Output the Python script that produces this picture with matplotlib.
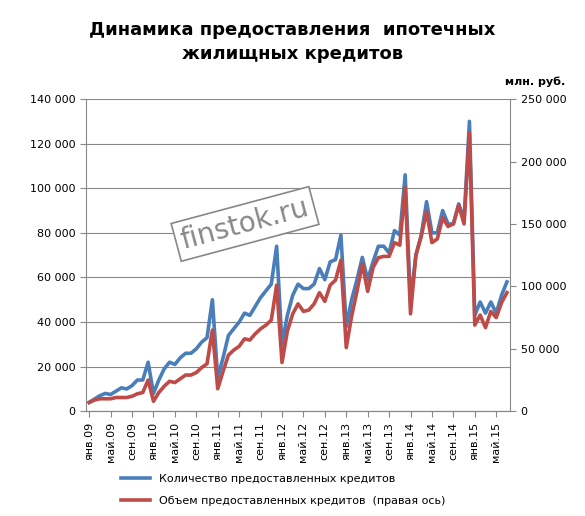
import matplotlib.pyplot as plt
import numpy as np
from matplotlib.ticker import FuncFormatter

months = ['янв', 'фев', 'мар', 'апр', 'май', 'июн', 'июл', 'авг', 'сен', 'окт', 'ноя', 'дек']
years = ['09', '10', '11', '12', '13', '14', '15']

count = [4, 5.5, 7, 8, 7.5, 9, 10.5, 10, 11.5, 14, 14, 22,
         8, 14, 19, 22, 21, 24, 26, 26, 28, 31, 33, 50,
         15, 24, 34, 37, 40, 44, 43, 47, 51, 54, 57, 74,
         30, 43, 52, 57, 55, 55, 57, 64, 59, 67, 68, 79,
         38, 50, 59, 69, 59, 67, 74, 74, 71, 81, 79, 106,
         49, 70, 79, 94, 80, 80, 90, 84, 84, 93, 86, 130,
         43, 49, 44, 49, 44, 52, 58]
volume = [7, 9, 10, 10, 10, 11, 11, 11, 12, 14, 15, 25,
          8, 15, 20, 24, 23, 26, 29, 29, 31, 35, 38, 65,
          18, 32, 45, 49, 52, 58, 57, 62, 66, 69, 73, 101,
          39, 64, 78, 86, 80, 81, 86, 95, 88, 101, 105, 121,
          51, 76, 96, 118, 96, 115, 123, 124, 124, 135, 133, 179,
          78, 125, 140, 160, 135, 138, 155, 148, 150, 165, 150, 223,
          69, 77, 67, 80, 75, 87, 95]

labels = [f'{m}.{y}' for y in years for m in months][:len(count)]
x = np.arange(len(count))
blue = '#4a7ebb'
red = '#be4b48'

fig = plt.figure(figsize=(5.85, 5.16), dpi=100)
ax = fig.add_axes([0.147, 0.203, 0.725, 0.605])
ax2 = ax.twinx()

ax.plot(x, np.array(count) * 1000, color=blue, lw=2.6, label='Количество предоставленных кредитов')
ax2.plot(x, np.array(volume) * 1000, color=red, lw=2.6, label='Объем предоставленных кредитов  (правая ось)')

fmt = FuncFormatter(lambda v, p: f'{int(v):,}'.replace(',', '\u00a0'))
ax.set_ylim(0, 140000)
ax.set_yticks(range(0, 140001, 20000))
ax.yaxis.set_major_formatter(fmt)
ax2.set_ylim(0, 250000)
ax2.set_yticks(range(0, 250001, 50000))
ax2.yaxis.set_major_formatter(fmt)
ax.set_xlim(-0.6, len(count) - 0.4)
ax.set_xticks(x[::4])
ax.set_xticklabels(labels[::4], rotation=90, fontsize=8)
ax.grid(axis='y', color='#888888', lw=0.8)
ax.set_axisbelow(True)
for a in (ax, ax2):
    a.tick_params(labelsize=8, length=4, color='#888888')
    a.spines['top'].set_visible(False)
    for s in ('left', 'right', 'bottom'):
        a.spines[s].set_color('#888888')
ax2.spines['left'].set_visible(False)
ax.spines['right'].set_visible(False)

fig.text(0.5, 0.96, 'Динамика предоставления  ипотечных\nжилищных кредитов',
         ha='center', va='top', fontsize=13, fontweight='bold', linespacing=1.45)
fig.text(0.915, 0.835, 'млн. руб.', ha='center', fontsize=8, fontweight='bold')

ax.text(0.375, 0.6, 'finstok.ru', transform=ax.transAxes, fontsize=20, color='#888888',
        rotation=15, ha='center', va='center',
        bbox=dict(facecolor='white', edgecolor='#888888', lw=1.2, pad=4))

h1, l1 = ax.get_legend_handles_labels()
h2, l2 = ax2.get_legend_handles_labels()
fig.legend(h1 + h2, l1 + l2, loc='lower left', bbox_to_anchor=(0.19, 0.0), frameon=False,
           fontsize=8, labelspacing=1.1, handlelength=2.6)

fig.savefig('out.png', dpi=100)
